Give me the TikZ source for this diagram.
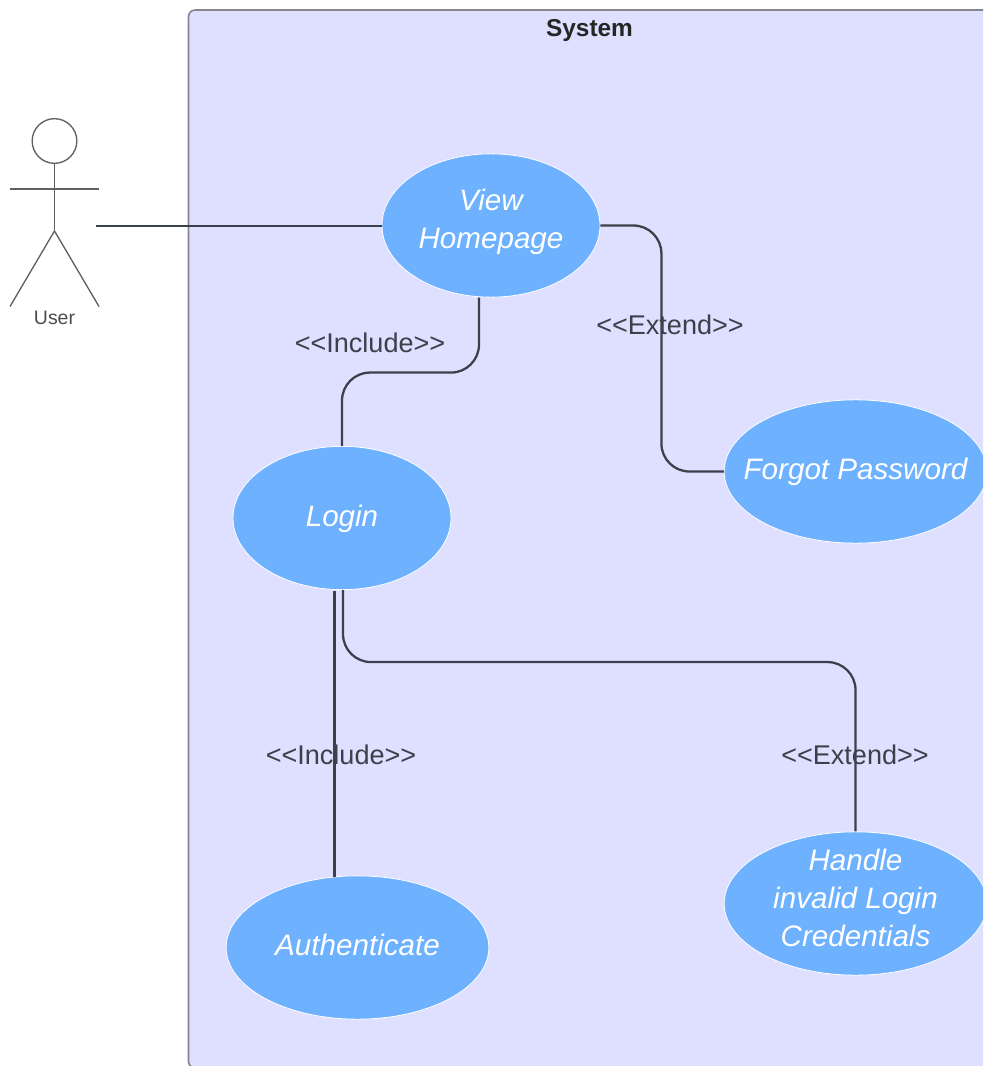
\documentclass[tikz,border=0pt]{standalone}
\usepackage{fontspec}
\setmainfont{Liberation Sans}
\usetikzlibrary{shapes.geometric,calc}
\definecolor{sysfill}{HTML}{DFDFFF}
\definecolor{sysline}{HTML}{85858F}
\definecolor{ucfill}{HTML}{6DB1FF}
\definecolor{conn}{HTML}{3A414A}
\definecolor{actorline}{HTML}{606060}
\tikzset{
  usecase/.style={ellipse,draw=white,line width=0.6pt,fill=ucfill,text=white,inner sep=0pt,
    minimum width=163.5pt,minimum height=107.5pt,align=center,
    font=\fontsize{22.2}{28.6}\selectfont\itshape},
  wideusecase/.style={usecase,minimum width=197pt,inner xsep=-30pt},
  connector/.style={draw=conn,line width=1.7pt,rounded corners=21pt},
  edgelabel/.style={text=conn,inner sep=0pt,font=\fontsize{20.3}{24}\selectfont},
  stick/.style={draw=actorline,line width=1pt}
}
\begin{document}
\begin{tikzpicture}[x=0.75pt,y=-0.75pt]
\useasboundingbox (0,0) rectangle (983,1066);
\clip (0,0) rectangle (983,1066);
\fill[white] (0,0) rectangle (983,1066);
% system boundary
\draw[draw=sysline,fill=sysfill,line width=1.2pt,rounded corners=5pt] (188.5,10) rectangle (1010,1068);
\node[inner sep=0pt,text=black!85,font=\fontsize{18.3}{22}\selectfont\bfseries] (systitle) at (589.5,30.5) {System};
% actor
\node[circle,stick,minimum size=33.5pt,inner sep=0pt] (head) at (54.5,141) {};
\coordinate (hip) at (54.5,231);
\coordinate (armL) at (10,189);
\coordinate (armR) at (99,189);
\coordinate (legL) at (10,306.5);
\coordinate (legR) at (99,306.5);
\draw[stick] (head.south) -- (hip);
\draw[stick] (armL) -- (armR);
\draw[stick] (legL) -- (hip) -- (legR);
\node[inner sep=0pt,text=black!70,font=\fontsize{14.6}{18}\selectfont] (user) at (54.5,318) {User};
\coordinate (actorport) at (96,226);
% use cases
\node[usecase,text depth=10pt] (home) at (491,225.5) {View\\Homepage};
\node[usecase,text depth=3.2pt] (login) at (342,518) {Login};
\node[wideusecase] (forgot) at (855.5,471.5) {Forgot Password};
\node[wideusecase,text depth=4.5pt] (auth) at (357.5,947.5) {Authenticate};
\node[wideusecase,text depth=9pt,inner ysep=-15pt] (invalid) at (855.5,903.5) {Handle\\invalid Login\\Credentials};
% edge labels
\node[edgelabel] (inc1) at (370,343) {<{}<Include>{}>};
\node[edgelabel] (ext1) at (670,325) {<{}<Extend>{}>};
\node[edgelabel] (inc2) at (341,755) {<{}<Include>{}>};
\node[edgelabel] (ext2) at (855,755) {<{}<Extend>{}>};
% connectors
\draw[connector] (actorport) -- (actorport -| home.west);
\draw[connector] ($(home.south)+(-12,0)$) -- ++(0,75) -| (login.north);
\draw[connector] (home.east) -- ++(61,0) |- (forgot.west);
\draw[connector] (login.south) ++(1,0) -- ++(0,72) -| (invalid.north);
\draw[connector,rounded corners=0pt] ($(login.south)+(-7.5,1)$) -- ($(auth.north)+(-23,2)$);
\end{tikzpicture}
\end{document}
